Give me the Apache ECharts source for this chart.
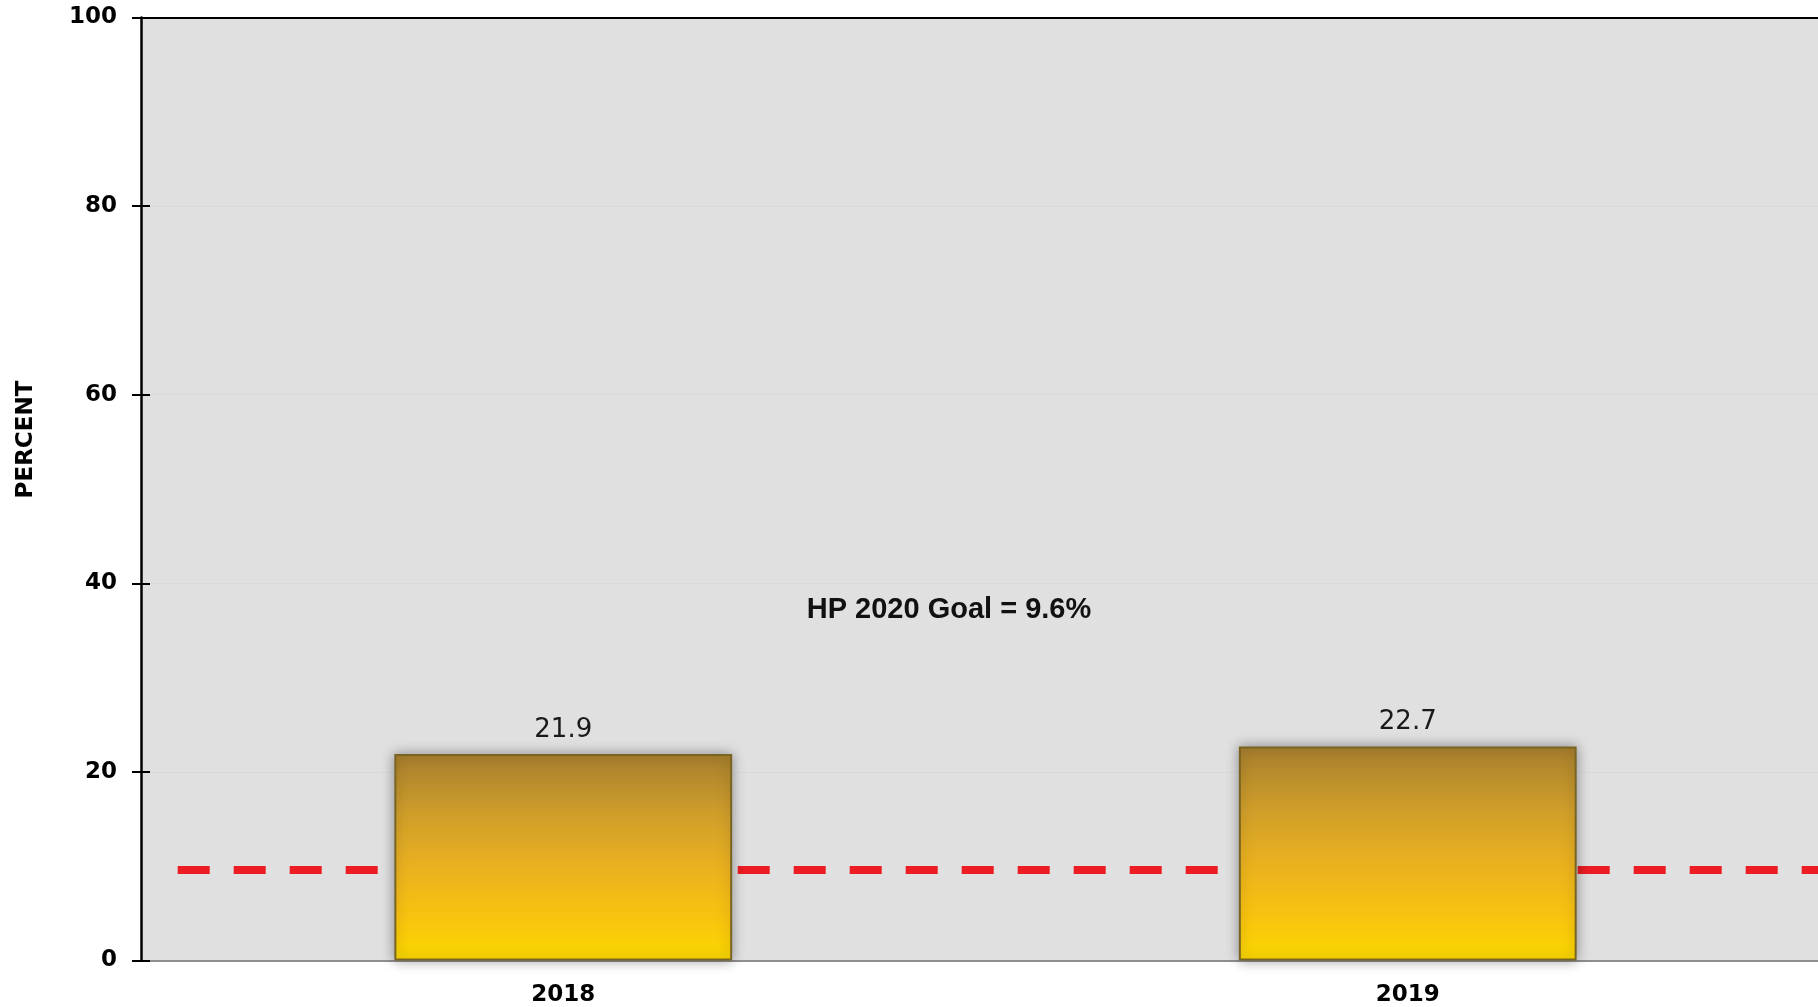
<!DOCTYPE html>
<html>
<head>
<meta charset="utf-8">
<title>Percent by year</title>
<script src="https://cdn.jsdelivr.net/npm/echarts@6/dist/echarts.min.js"></script>
<style>
  html, body { margin: 0; padding: 0; background: #ffffff; }
  #chart { width: 1818px; height: 1007px; }
</style>
</head>
<body>
<div id="chart"></div>
<script>
// Survey years and the percent reported for each
const years = ['2018', '2019'];
const percentValues = [21.9, 22.7];

// Healthy People 2020 target
const goalValue = 9.6;
const goalLabel = 'HP 2020 Goal = ' + goalValue + '%';

// Value axis scale
const yMin = 0;
const yMax = 100;
const yStep = 20;
const yAxisTitle = 'PERCENT';

const chart = echarts.init(document.getElementById('chart'), null, { renderer: 'canvas' });

const tickFont = { fontFamily: 'DejaVu Sans', fontWeight: 'bold', fontSize: 23, color: '#000' };

// Dash pattern for the goal line: a short lead-in gap, then 32px dashes with 24px gaps
const goalDash = [0, 36.7];
for (let i = 0; i < 32; i++) goalDash.push(32, 24);

const option = {
  animation: false,
  backgroundColor: '#ffffff',
  grid: {
    left: 141,
    width: 1689,
    top: 17.5,
    height: 943,
    outerBoundsMode: 'none',
    show: true,
    backgroundColor: '#e0e0e0',
    borderWidth: 0
  },
  xAxis: [
    {
      type: 'category',
      data: years,
      position: 'bottom',
      axisLine: { show: true, onZero: false, lineStyle: { color: '#8f8f8f', width: 2 } },
      axisTick: { show: false },
      axisLabel: Object.assign({ margin: 23 }, tickFont),
      splitLine: { show: false }
    },
    {
      type: 'category',
      data: years,
      position: 'top',
      axisLine: { show: true, onZero: false, lineStyle: { color: '#000', width: 2 } },
      axisTick: { show: false },
      axisLabel: { show: false },
      splitLine: { show: false }
    }
  ],
  yAxis: [
    {
      type: 'value',
      min: yMin,
      max: yMax,
      interval: yStep,
      position: 'left',
      axisLine: { show: true, onZero: false, lineStyle: { color: '#000', width: 2.5 } },
      axisTick: { show: true, inside: false, length: 9, lineStyle: { color: '#000', width: 2 } },
      axisLabel: Object.assign({ margin: 24, padding: [10, 0, 0, 0] }, tickFont),
      splitLine: { show: true, lineStyle: { color: '#dadada', width: 1 } }
    },
    {
      type: 'value',
      min: yMin,
      max: yMax,
      interval: yStep,
      position: 'left',
      axisLine: { show: false, onZero: false },
      axisTick: { show: true, inside: true, length: 9, lineStyle: { color: '#000', width: 2 } },
      axisLabel: { show: false },
      splitLine: { show: false }
    }
  ],
  graphic: [
    {
      type: 'text',
      rotation: Math.PI / 2,
      x: 26.5,
      y: 439.5,
      style: {
        text: yAxisTitle,
        fontFamily: 'DejaVu Sans',
        fontWeight: 'bold',
        fontSize: 23,
        fill: '#000',
        align: 'center',
        verticalAlign: 'middle'
      }
    },
    {
      type: 'text',
      x: 949,
      y: 609.5,
      style: {
        text: goalLabel,
        fontFamily: 'Liberation Sans',
        fontWeight: 'bold',
        fontSize: 29,
        fill: '#111',
        align: 'center',
        verticalAlign: 'middle'
      }
    }
  ],
  series: [
    {
      // dashed goal line, drawn beneath the bars
      name: 'Goal',
      type: 'line',
      z: 1,
      data: [],
      silent: true,
      markLine: {
        z: 1,
        silent: true,
        symbol: ['none', 'none'],
        label: { show: false },
        lineStyle: { color: '#ec1c24', width: 8, type: goalDash, opacity: 1 },
        data: [{ yAxis: goalValue }]
      }
    },
    {
      name: 'Percent',
      type: 'bar',
      z: 3,
      data: percentValues,
      barWidth: '40%',
      itemStyle: {
        color: new echarts.graphic.LinearGradient(0, 0, 0, 1, [
          { offset: 0, color: '#a67e2e' },
          { offset: 0.3, color: '#d09f2a' },
          { offset: 0.55, color: '#eab11f' },
          { offset: 0.8, color: '#f9c40f' },
          { offset: 1, color: '#fad800' }
        ]),
        borderColor: '#7a6422',
        borderWidth: 2,
        shadowBlur: 12,
        shadowColor: 'rgba(0,0,0,0.35)'
      },
      label: {
        show: true,
        position: 'top',
        distance: 11,
        fontFamily: 'DejaVu Sans',
        fontSize: 26,
        color: '#1a1a1a',
        formatter: (p) => p.value.toFixed(1)
      }
    }
  ]
};

chart.setOption(option);
</script>
</body>
</html>
